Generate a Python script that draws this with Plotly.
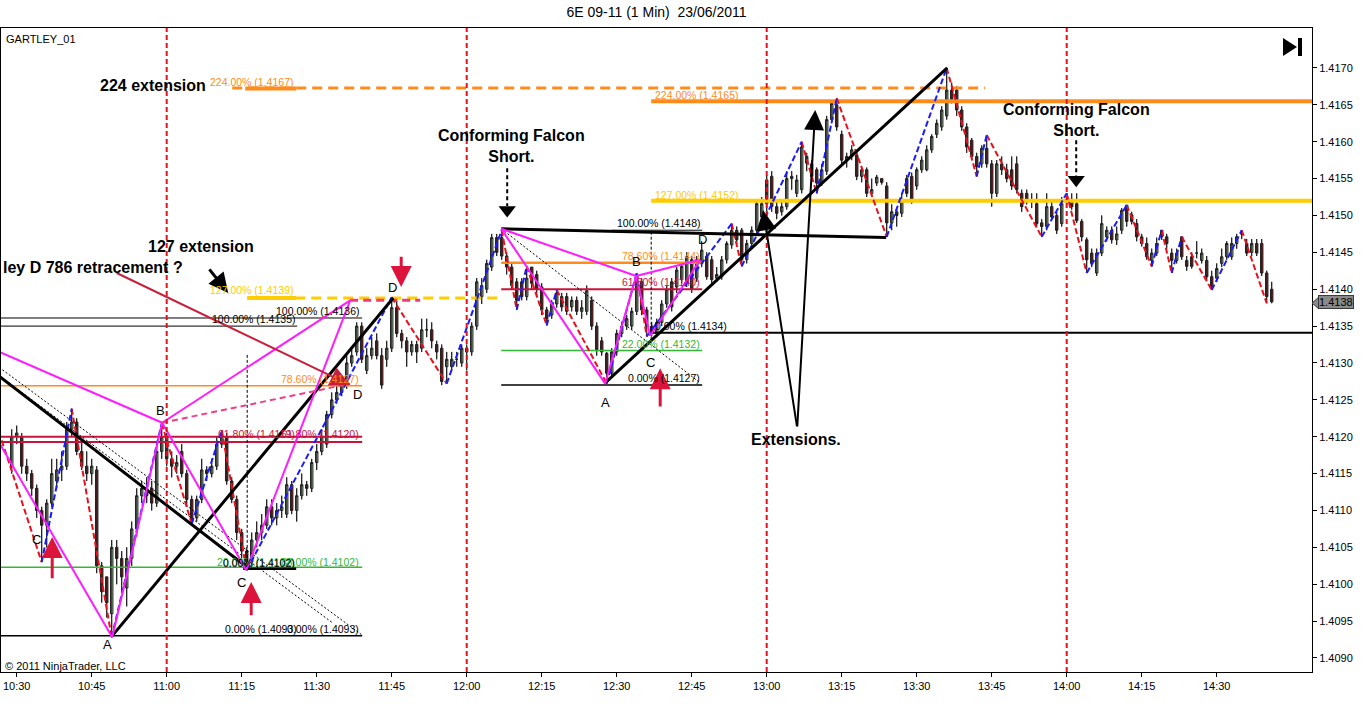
import plotly.graph_objects as go

# ---------------- data (prices in pips above BASE) ----------------
BASE = 1.4000
PIP = 0.0001

TIME_LABELS = ["10:30", "10:45", "11:00", "11:15", "11:30", "11:45", "12:00", "12:15",
               "12:30", "12:45", "13:00", "13:15", "13:30", "13:45", "14:00", "14:15", "14:30"]
TIME_LABEL_BARS = [1, 16, 31, 46, 61, 76, 91, 106, 121, 136, 151, 166, 181, 196, 211, 226, 241]
PRICE_TICKS = [1.4090, 1.4095, 1.4100, 1.4105, 1.4110, 1.4115, 1.4120, 1.4125, 1.4130,
               1.4135, 1.4140, 1.4145, 1.4150, 1.4155, 1.4160, 1.4165, 1.4170]

OPEN_PIPS = [
    116, 120, 120, 116, 115, 113, 110, 108, 111, 114,
    115.5, 116, 121, 122, 118, 116, 115, 115.5, 102.5, 101,
    96, 105, 103.5, 99.5, 103.5, 107.5, 112, 113, 113, 111,
    118, 120, 117, 116, 118, 115, 111.5, 109, 111.5, 115.5,
    115, 116, 119, 120, 114, 111.5, 107, 104.5, 103, 106,
    107, 108, 110.5, 109, 110, 109.5, 113.5, 110, 112, 113.5,
    113, 116.5, 118, 119, 123, 125, 126, 127, 130, 131.5,
    135, 129, 131, 133, 131, 130.5, 132, 137.5, 134, 133,
    131.5, 132.5, 132, 134.5, 134.5, 132.5, 132, 129.5, 129.5, 130.5,
    130, 132, 131.5, 135, 139, 140, 143, 147, 147, 144.5,
    143, 141, 141, 139, 143, 142, 140.3, 137.2, 136.5, 138,
    139, 139, 137.6, 138.5, 137, 137, 138.5, 135, 133, 131.3,
    128.6, 131.5, 134, 135, 135, 137, 141, 137.2, 135, 134,
    135.5, 138, 141, 140.3, 141.3, 140.8, 144, 141.5, 143.5, 144.5,
    144, 141.5, 141.7, 144, 146, 148, 148, 144, 146.2, 148,
    149.8, 154.8, 155.3, 151.2, 150.5, 151.2, 155, 153, 153.5, 158,
    157, 156.2, 154.4, 156, 163, 165, 161, 157.5, 158, 158.2,
    155.3, 156.2, 153, 154.4, 155, 154, 149, 150.5, 150.3, 155,
    155.3, 154, 156.2, 156.2, 158.9, 161, 162, 163.5, 167, 167,
    164.3, 162, 160.2, 158, 157, 159.1, 157, 153, 157, 156.2,
    156.2, 157, 153, 153, 152, 151.6, 149, 148.5, 151.2, 150,
    148.9, 152, 152.2, 151.6, 149.2, 146.7, 144.9, 142.2, 144.9, 147.1,
    148, 146.7, 148, 151.4, 150.1, 148.9, 147.1, 146.2, 143.9, 144.9,
    148, 147.1, 144.9, 143.9, 147.1, 143.9, 144.4, 144.9, 143.9, 143.9,
    141.7, 141.5, 143.5, 144.4, 144.4, 146.2, 147.5, 146.2, 145, 146.2,
    146.2, 142.2, 140]

HIGH_PIPS = [
    121, 121.5, 120.5, 117, 115.5, 113.5, 110.5, 111.5, 117, 117,
    118, 122, 123.8, 122.5, 119.5, 118, 117, 116, 103, 101,
    106, 106, 104.5, 105, 108.5, 113, 114, 114.5, 114, 119,
    121.8, 120.5, 118, 117.5, 119, 115.5, 112, 112, 117, 116,
    117, 120, 120.9, 120.5, 114.5, 112, 107.5, 105, 107, 108.5,
    109.5, 111.5, 111.5, 111, 112, 114.5, 114, 113, 115, 114,
    117, 119, 121, 123.5, 126, 127, 128, 131, 132, 135.5,
    135.5, 132, 133.5, 134, 132, 133, 138.9, 138.5, 134.5, 133.5,
    133, 133, 136, 136, 135.5, 133, 132.5, 131.5, 131.5, 131.5,
    132.5, 132.5, 135.5, 141.5, 141.5, 144, 147.5, 147.5, 148, 145,
    143.5, 141.5, 141.5, 143.1, 143, 142.5, 140.8, 137.6, 138.5, 140,
    139.5, 139.5, 139, 139, 138.5, 140.5, 139, 135.5, 133.5, 131.5,
    132, 134.5, 135.5, 136.5, 137.5, 142.2, 141.5, 137.6, 135.5, 136,
    138.5, 140.5, 141.5, 143, 143.5, 145, 144.5, 144.5, 146.5, 145,
    144.5, 143, 144.5, 146.5, 148.9, 148.5, 148.3, 146.7, 148.5, 152,
    152.5, 155.5, 156, 152, 152, 156, 156, 155.5, 160, 158.5,
    157.5, 156.5, 157, 163.5, 165.5, 165.9, 161.5, 158.5, 159.5, 158.5,
    156.5, 156.5, 155, 155.5, 155, 154.5, 151.5, 151, 153, 155.5,
    155.8, 156.5, 158, 159.5, 161, 163, 164.8, 170, 168, 167.5,
    164.8, 162.5, 160.5, 158.5, 159.5, 160.9, 157.5, 157.5, 158, 157,
    158, 158, 153.5, 153.5, 153, 153, 149.5, 153, 152, 150.5,
    152.5, 153, 153, 153, 149.5, 147, 145.5, 145.5, 150, 148.5,
    148.5, 148.5, 151, 151.4, 150.5, 149.5, 147.5, 147, 145.5, 147,
    148, 147.5, 145.5, 145.5, 147.1, 144.5, 145, 146.5, 145.5, 144.5,
    142.5, 143.5, 145.5, 146.5, 147, 147.5, 148, 146.8, 146.8, 146.8,
    146.8, 142.5, 141]

LOW_PIPS = [
    115, 119, 115, 114, 112, 109, 103, 105, 110.5, 113,
    114, 115.5, 120, 117.5, 115.5, 114, 113.5, 101.5, 97.5, 95.5,
    92.8, 100, 99, 97, 102.5, 106.5, 111, 111, 110, 110.5,
    117, 116, 114.5, 115, 114.5, 110.5, 108.2, 108.5, 111, 114,
    114.5, 115.5, 118.5, 113.5, 111, 106, 103.5, 101.9, 102.5, 105,
    106, 107.5, 108, 108, 109, 109, 109.5, 108.5, 111.5, 112,
    112.5, 115.5, 117.5, 118.5, 122.5, 124.5, 125.5, 126.5, 129.5, 131,
    130, 128.5, 130.5, 130.5, 126.5, 129.5, 131.5, 133.5, 132, 129.5,
    131, 130, 131.5, 133.5, 132, 130.5, 127, 127.2, 129, 129.5,
    129.5, 129, 131, 134.5, 138, 139.5, 142.5, 144.5, 144, 142,
    140, 137.2, 138.5, 138.5, 140, 139, 136.5, 135.1, 136, 137.5,
    137, 136.5, 137, 136.5, 136, 136.5, 134.5, 131, 131, 127.2,
    128, 131, 133.5, 134.5, 134.5, 136.5, 136.5, 133.6, 133.6, 133.5,
    135, 137.5, 137, 139.5, 140.8, 140.3, 139.5, 141, 143, 141.3,
    140.8, 141, 141.3, 143.5, 145.5, 146, 143.1, 143.5, 145.8, 147.5,
    149.5, 150.5, 150.5, 149.5, 150, 150.8, 153.5, 152.5, 153, 156,
    154.5, 153, 154, 155.5, 162.5, 161.5, 157, 156.5, 157.5, 154.8,
    154.5, 152.5, 152.5, 154, 154.2, 147.1, 148, 148.5, 149.8, 152.5,
    151.6, 153.5, 155.8, 156, 158.5, 160.5, 161.5, 163, 165.2, 163.5,
    161.5, 158.5, 157.5, 155.3, 156.5, 156.5, 151.2, 152.5, 155.5, 154.5,
    153.5, 153, 150.5, 151.5, 151, 148.5, 147.1, 148, 149.5, 147.5,
    148.5, 151.5, 150.8, 149, 146.5, 142.2, 143, 141.8, 144.5, 146.5,
    146.2, 146, 147.5, 148.5, 148.8, 146.5, 145.8, 144, 143.1, 144.5,
    146.7, 145.5, 142.2, 143.5, 144, 142.5, 142.8, 144.2, 143.5, 141.2,
    139.9, 141, 143, 144, 144, 145.5, 146.8, 144.5, 144.5, 144.5,
    141.8, 138.1, 138.1]

CLOSE_PIPS = [
    120, 120.5, 116, 115, 113, 110, 108, 111, 115, 115.5,
    116, 121, 122, 118, 116, 115, 116, 102.5, 99, 97.5,
    105, 103.5, 101, 103.5, 107.5, 112, 113, 112, 111, 118,
    120, 117, 116, 116.5, 115, 111.5, 108.5, 111.5, 115.5, 115,
    116, 119, 120, 114, 111.5, 107, 104.5, 103, 106, 107,
    108, 110.5, 109, 110, 110.5, 113.5, 110, 112, 113.5, 113,
    116.5, 118, 120, 123, 125, 126, 127, 130, 131, 135,
    130.5, 131, 132, 131, 127, 132, 137.5, 134, 133, 131.5,
    132.5, 131.5, 134.5, 134.5, 133, 131.5, 127.5, 130.5, 130.5, 130.5,
    132, 131.5, 135, 141, 140.5, 143.5, 147, 145, 144.5, 143,
    140.5, 138.5, 139, 141.5, 140.8, 140, 137.2, 136, 138, 139.5,
    137.6, 137, 138.5, 137, 137.5, 139.8, 135, 131.8, 131.5, 128.6,
    131.5, 134, 135, 136, 137, 142, 137.2, 135, 134, 135.5,
    138, 140, 137.6, 142.6, 143.1, 144.4, 140, 144, 145.3, 141.7,
    141.3, 142, 144, 146.2, 148, 146.7, 144, 146.2, 148, 151.6,
    151.6, 151.6, 151.2, 150.3, 151.2, 155, 155.3, 154.8, 159.3, 157.1,
    155.3, 154.4, 156.2, 163, 165.2, 162, 157.5, 158, 158.9, 155.3,
    156.2, 153, 153.5, 155.2, 154.5, 149, 150.5, 150, 152, 153,
    152.1, 156.2, 157.5, 158.9, 160.7, 162.5, 164.3, 167, 165.7, 164.3,
    162, 159.3, 158, 156.6, 159.1, 157, 153, 157, 156.2, 155,
    154, 153.5, 151.2, 152.1, 152, 148.9, 148.5, 151.2, 149.8, 148,
    151.6, 152.2, 151.2, 149.3, 147.1, 144, 143.5, 144.9, 148.9, 148,
    146.7, 147.5, 150.7, 149.2, 149.2, 147.1, 146.2, 144.4, 144.9, 146.2,
    147.1, 146.2, 143.9, 144.9, 144.4, 143.1, 143.1, 144.9, 144.9, 141.7,
    140.3, 142.8, 144.4, 146.2, 146.2, 147.1, 147.5, 144.9, 146.2, 144.9,
    142.2, 139, 138.3]

LAST_PRICE_TEXT = "1.4138"

# zigzag swing points (bar index, pips)
ZIGZAG_BARS = [-2, 6, 12, 20, 30, 36, 42, 47, 76, 87, 98, 101, 103, 107, 109, 119, 125, 127,
               144, 146, 158, 161, 165, 175, 187, 193, 195, 206, 211, 215, 223, 228, 230,
               232, 234, 240, 246, 251]
ZIGZAG_PIPS = [119.5, 103, 123.8, 92.8, 121.8, 108.2, 120.9, 101.9, 138.9, 127.2, 148.0,
               137.2, 143.1, 135.1, 139.9, 127.2, 142.2, 133.6, 148.9, 143.1, 160.0, 153.0,
               165.9, 147.1, 170.0, 155.3, 160.9, 147.1, 153.0, 142.2, 151.4, 143.1, 148.0,
               142.2, 147.1, 139.9, 148.0, 138.1]

SESSION_HOUR_BARS = [31, 91, 151, 211]

# ---------------- helpers ----------------
def price(p):
    return BASE + p * PIP

N = len(CLOSE_PIPS)
BARS = list(range(N))
X_MIN, X_MAX = -2.14, 260.06
Y_MIN, Y_MAX = price(88.1), price(175.42)

FONT = "Liberation Sans, Arial, sans-serif"
ORANGE = "#ff8c1a"
GOLD = "#ffcc00"
CRIMSON = "#c8143c"
GREEN = "#33b833"
PINK = "#ff1cff"
RED = "#e8101c"
BLUE = "#1a1aff"

fig = go.Figure()

# wicks
wx, wy = [], []
for k in BARS:
    wx += [k, k, None]
    wy += [price(LOW_PIPS[k]), price(HIGH_PIPS[k]), None]
fig.add_trace(go.Scatter(x=wx, y=wy, mode="lines", line=dict(color="#202020", width=1),
                         hoverinfo="skip", showlegend=False))

# bodies
fig.add_trace(go.Candlestick(
    x=BARS,
    open=[price(v) for v in OPEN_PIPS], high=[price(v) for v in HIGH_PIPS],
    low=[price(v) for v in LOW_PIPS], close=[price(v) for v in CLOSE_PIPS],
    increasing=dict(fillcolor="#b9e6b0", line=dict(color="#202020", width=1)),
    decreasing=dict(fillcolor="#a81818", line=dict(color="#202020", width=1)),
    whiskerwidth=0, showlegend=False, hoverinfo="skip"))


def seg(x0, p0, x1, p1, color, width, dash="solid"):
    fig.add_trace(go.Scatter(x=[x0, x1], y=[price(p0), price(p1)], mode="lines",
                             line=dict(color=color, width=width, dash=dash),
                             hoverinfo="skip", showlegend=False))


# session separators
shapes = []
for b in SESSION_HOUR_BARS:
    shapes.append(dict(type="line", xref="x", yref="paper", x0=b, x1=b, y0=0, y1=1,
                       line=dict(color=RED, width=2, dash="5px,3px")))

# ---- left pattern fib levels ----
seg(-3, 136.1, 70.1, 136.1, "#000000", 1)
seg(-3, 135.0, 57.1, 135.0, "#000000", 1)
seg(-3, 126.9, 70.1, 126.9, ORANGE, 1.5)
seg(-3, 120.0, 70.1, 120.0, CRIMSON, 2)
seg(-3, 119.3, 70.1, 119.3, CRIMSON, 2)
seg(-3, 102.3, 70.1, 102.3, GREEN, 1.5)
seg(-3, 93.0, 70.1, 93.0, "#000000", 1.5)
# dotted channel
seg(-2.5, 129.4, 70.1, 93.1, "#000000", 1, "2px,2px")
seg(-2.5, 128.3, 64.3, 94.7, "#000000", 1, "2px,2px")
seg(47.1, 131.1, 47.1, 101.9, "#000000", 1, "3px,2px")

# ---- right pattern fib levels ----
seg(120, 148.0, 138.1, 148.0, "#000000", 1)
seg(97.9, 143.6, 138.1, 143.6, ORANGE, 2.5)
seg(97.9, 140.0, 138.1, 140.0, CRIMSON, 2)
seg(97.9, 131.7, 138.1, 131.7, GREEN, 1.5)
seg(97.9, 127.0, 138.1, 127.0, "#000000", 1.5)
seg(97.9, 148.2, 137.7, 127.3, "#000000", 1, "2px,2px")
seg(127.9, 147.8, 127.9, 132.7, "#000000", 1, "3px,2px")

# extension levels
seg(44.1, 167.3, 194.7, 167.3, ORANGE, 3, "10px,6px")
seg(46.7, 167.2, 56.9, 167.2, ORANGE, 4)
seg(127.9, 165.5, 262, 165.5, ORANGE, 4)
seg(127.9, 152.0, 262, 152.0, GOLD, 4)
seg(47.1, 138.8, 97.7, 138.8, GOLD, 3, "10px,6px")
seg(47.1, 138.8, 56.9, 138.8, GOLD, 4)
seg(67.7, 138.5, 81.7, 138.5, "#f03c78", 3, "8px,5px")
seg(127.9, 134.1, 262, 134.1, "#000000", 2)

# zigzag legs
rx, ry, bx, by = [], [], [], []
for i in range(len(ZIGZAG_BARS) - 1):
    xs = [ZIGZAG_BARS[i], ZIGZAG_BARS[i + 1], None]
    ys = [price(ZIGZAG_PIPS[i]), price(ZIGZAG_PIPS[i + 1]), None]
    if ZIGZAG_PIPS[i + 1] < ZIGZAG_PIPS[i]:
        rx += xs; ry += ys
    else:
        bx += xs; by += ys
fig.add_trace(go.Scatter(x=rx, y=ry, mode="lines", line=dict(color=RED, width=2, dash="6px,3px"),
                         hoverinfo="skip", showlegend=False))
fig.add_trace(go.Scatter(x=bx, y=by, mode="lines", line=dict(color=BLUE, width=2, dash="6px,3px"),
                         hoverinfo="skip", showlegend=False))

# thick black pattern legs
seg(-2.5, 128.2, 47.1, 102.3, "#000000", 3)
seg(46.3, 102.1, 56.9, 102.1, "#000000", 2.5)
seg(20.1, 93.0, 76.3, 138.8, "#000000", 3)
seg(97.9, 148.2, 174.9, 147.0, "#000000", 3)
seg(118.7, 127.3, 187.1, 170.0, "#000000", 3)

# magenta harmonic legs
seg(-2.5, 119.2, 20.1, 92.8, PINK, 2)
seg(-2.5, 131.5, 30.1, 121.9, PINK, 2)
seg(20.1, 92.8, 30.1, 121.9, PINK, 2)
seg(30.1, 121.9, 46.9, 101.9, PINK, 2)
seg(46.9, 101.9, 67.7, 138.5, PINK, 2)
seg(30.1, 121.9, 67.7, 138.5, PINK, 2)
seg(30.1, 121.9, 67.7, 127.2, "#f03c8c", 2, "6px,4px")
seg(97.9, 148.2, 118.7, 127.2, PINK, 2)
seg(97.9, 148.2, 124.9, 141.8, PINK, 2)
seg(118.7, 127.2, 124.9, 141.8, PINK, 2)
seg(124.9, 141.8, 127.7, 133.7, PINK, 2)
seg(127.7, 133.7, 137.7, 144.0, PINK, 2)
seg(124.9, 141.8, 137.7, 144.0, PINK, 2)

# dashed black "Falcon" arrows
for xb, p_top, p_tip in [(99.1, 156.4, 149.8), (212.9, 160.2, 153.9)]:
    seg(xb, p_top, xb, p_tip + 1.5, "#000000", 2, "4px,3px")
    fig.add_trace(go.Scatter(x=[xb], y=[price(p_tip + 0.95)], mode="markers",
                             marker=dict(symbol="triangle-down", size=15, color="#000000"),
                             hoverinfo="skip", showlegend=False))

annotations = []


def arrow(x_tail, p_tail, x_tip, p_tip, color, width, size):
    annotations.append(dict(x=x_tip, y=price(p_tip), ax=x_tail, ay=price(p_tail),
                            xref="x", yref="y", axref="x", ayref="y", text="",
                            showarrow=True, arrowhead=2, arrowsize=size, arrowwidth=width,
                            arrowcolor=color, standoff=0))


arrow(8.1, 100.6, 8.1, 106.4, "#dc143c", 3, 1.4)
arrow(47.9, 95.6, 47.9, 100.3, "#dc143c", 3, 1.4)
arrow(129.7, 123.9, 129.7, 129.3, "#dc143c", 3, 1.4)
arrow(77.9, 144.6, 77.9, 140.3, "#dc143c", 3, 1.4)
arrow(20.7, 142.3, 67.7, 127.0, "#c8203c", 2, 2.0)
arrow(39.3, 142.9, 43.3, 139.5, "#000000", 3, 1.3)
arrow(157.1, 121.2, 150.3, 150.7, "#000000", 2, 2.0)
arrow(157.1, 121.2, 160.7, 164.3, "#000000", 2, 2.0)


def label(x, p, text, color="#000000", size=11, xanchor="center", bold=False):
    t = "<b>%s</b>" % text if bold else text
    annotations.append(dict(x=x, y=price(p), xref="x", yref="y", text=t, showarrow=False,
                            xanchor=xanchor, yanchor="middle",
                            font=dict(family=FONT, size=size, color=color)))


# fib level captions
label(39.3, 168.1, "224.00% (1.4167)", ORANGE, 10.5, "left")
label(39.3, 139.9, "127.00% (1.4139)", GOLD, 10.5, "left")
label(69.9, 137.0, "100.00% (1.4136)", "#000000", 10.5, "right")
label(57.0, 136.0, "100.00% (1.4135)", "#000000", 10.5, "right")
label(69.9, 127.8, "78.60% (1.4127)", ORANGE, 10.5, "right")
label(57.0, 120.4, "61.80% (1.4119)", CRIMSON, 10.5, "right")
label(69.9, 120.4, "61.80% (1.4120)", CRIMSON, 10.5, "right")
label(57.0, 103.0, "20.00% (1.4102)", GREEN, 10.5, "right")
label(69.9, 103.0, "88.00% (1.4102)", GREEN, 10.5, "right")
label(57.0, 102.9, "0.00% (1.4102)", "#000000", 10.5, "right")
label(57.5, 93.9, "0.00% (1.4093)", "#000000", 10.5, "right")
label(69.9, 93.9, "0.00% (1.4093)", "#000000", 10.5, "right")
label(128.3, 166.3, "224.00% (1.4165)", ORANGE, 10.5, "left")
label(128.3, 152.8, "127.00% (1.4152)", GOLD, 10.5, "left")
label(138.0, 149.0, "100.00% (1.4148)", "#000000", 10.5, "right")
label(138.0, 144.5, "78.60% (1.4144)", ORANGE, 10.5, "right")
label(138.0, 141.0, "61.80% (1.4140)", CRIMSON, 10.5, "right")
label(138.0, 132.6, "22.00% (1.4132)", GREEN, 10.5, "right")
label(138.0, 128.0, "0.00% (1.4127)", "#000000", 10.5, "right")
label(128.3, 135.0, "0.00% (1.4134)", "#000000", 10.5, "left")

# pattern point letters
for xk, p, t in [(19.1, 91.8, "A"), (29.7, 123.5, "B"), (4.9, 106.0, "C"), (45.9, 100.3, "C"),
                 (76.1, 140.3, "D"), (69.1, 125.7, "D"), (118.7, 124.7, "A"), (124.9, 143.7, "B"),
                 (127.7, 130.1, "C"), (138.1, 146.7, "D")]:
    label(xk, p, t, "#000000", 13)

# comments
label(39.3, 167.56, "224 extension", "#000000", 16, "right", True)
label(37.9, 145.73, "127 extension", "#000000", 16, "center", True)
label(-2.14, 143.0, "ley D 786 retracement ?", "#000000", 16, "left", True)
label(99.9, 159.4, "Conforming Falcon<br>Short.", "#000000", 16, "center", True)
label(212.9, 162.95, "Conforming Falcon<br>Short.", "#000000", 16, "center", True)
label(156.9, 119.56, "Extensions.", "#000000", 16, "center", True)

# paper-positioned texts
W_PLOT, H_PLOT, L_PX, T_PX = 1311.0, 644.0, 1.0, 28.0


def px(xp):
    return (xp - L_PX) / W_PLOT


def py(yp):
    return (T_PX + H_PLOT - yp) / H_PLOT


annotations.append(dict(x=px(4), y=py(39), xref="paper", yref="paper", text="GARTLEY_01",
                        showarrow=False, xanchor="left", yanchor="middle",
                        font=dict(family=FONT, size=11, color="#000000")))
annotations.append(dict(x=px(3), y=py(666), xref="paper", yref="paper",
                        text="\u00a9 2011 NinjaTrader, LLC", showarrow=False,
                        xanchor="left", yanchor="middle",
                        font=dict(family=FONT, size=11, color="#000000")))
annotations.append(dict(x=px(1318), y=price(CLOSE_PIPS[-1]), xref="paper", yref="y",
                        text=LAST_PRICE_TEXT, showarrow=False, xanchor="left", yanchor="middle",
                        bgcolor="#8a8a8a", bordercolor="#3a3a3a", borderwidth=1, borderpad=0,
                        font=dict(family=FONT, size=11, color="#000000")))

# last price pointer and play/end icon
shapes.append(dict(type="path", xref="paper", yref="paper",
                   path="M %f %f L %f %f L %f %f Z" % (px(1312), py(303), px(1319), py(297),
                                                        px(1319), py(309)),
                   fillcolor="#8a8a8a", line=dict(color="#3a3a3a", width=1)))
shapes.append(dict(type="path", xref="paper", yref="paper",
                   path="M %f %f L %f %f L %f %f Z" % (px(1283), py(38), px(1283), py(56),
                                                        px(1297), py(47)),
                   fillcolor="#000000", line=dict(color="#000000", width=0)))
shapes.append(dict(type="rect", xref="paper", yref="paper", x0=px(1298), x1=px(1302),
                   y0=py(56), y1=py(38), fillcolor="#000000", line=dict(width=0)))

fig.update_layout(
    width=1366, height=718, autosize=False,
    margin=dict(l=1, r=54, t=28, b=46, pad=0),
    paper_bgcolor="#ffffff", plot_bgcolor="#ffffff",
    title=dict(text="6E 09-11 (1 Min)\u00a0\u00a023/06/2011", x=0.5, xanchor="center",
               xref="paper", y=1 - 12 / 718, yref="container", yanchor="middle",
               font=dict(family=FONT, size=14, color="#000000")),
    font=dict(family=FONT, size=11, color="#000000"),
    showlegend=False,
    shapes=shapes, annotations=annotations,
    xaxis=dict(range=[X_MIN, X_MAX], tickvals=TIME_LABEL_BARS, ticktext=TIME_LABELS,
               showgrid=False, zeroline=False, showline=True, linecolor="#000000",
               linewidth=1, mirror=True, ticks="outside", ticklen=4, tickcolor="#000000",
               tickfont=dict(family=FONT, size=11, color="#000000"),
               rangeslider=dict(visible=False), automargin=False),
    yaxis=dict(range=[Y_MIN, Y_MAX], side="right", tickvals=PRICE_TICKS, tickformat=".4f",
               showgrid=False, zeroline=False, showline=True, linecolor="#000000",
               linewidth=1, mirror=True, ticks="outside", ticklen=4, tickcolor="#000000",
               tickfont=dict(family=FONT, size=11, color="#000000"), automargin=False),
)

fig.write_html("out.html", config={"displayModeBar": False},
               post_script="document.body.style.margin='0px';")
